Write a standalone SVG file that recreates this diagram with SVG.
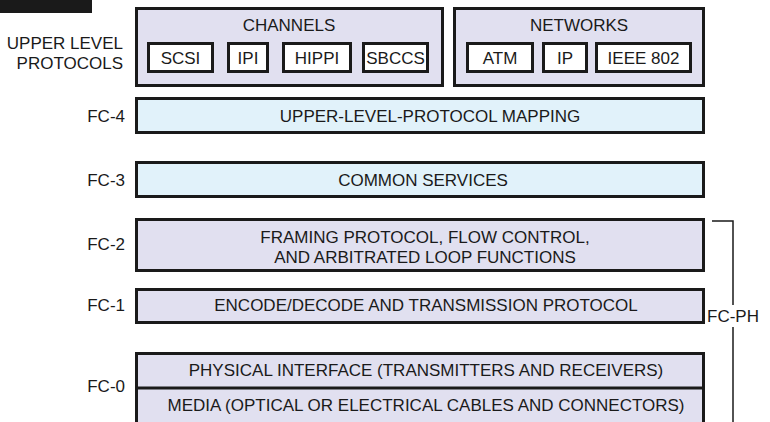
<svg xmlns="http://www.w3.org/2000/svg" width="770" height="422" viewBox="0 0 770 422">
  <style>
    text { font-family: "Liberation Sans", Arial, sans-serif; font-size: 17px; fill: #1a1a1a; }
    .mid { text-anchor: middle; }
    .end { text-anchor: end; }
    .group { fill: #e1e0f0; stroke: #1a1a1a; stroke-width: 3; }
    .proto { fill: #ffffff; stroke: #1a1a1a; stroke-width: 3; }
    .ulp { fill: #e1f2fa; stroke: #1a1a1a; stroke-width: 3; }
    .phys { fill: #e1e0f0; stroke: #1a1a1a; stroke-width: 3; }
    .bracket { fill: none; stroke: #1a1a1a; stroke-width: 1.5; }
  </style>

  <!-- corner tab -->
  <rect x="0" y="0" width="92" height="13" fill="#1a1a1a"/>

  <!-- upper level protocols -->
  <g id="upper-level-label">
    <text class="end" x="123" y="49">UPPER LEVEL</text>
    <text class="end" x="123" y="69">PROTOCOLS</text>
  </g>

  <g id="channels">
    <rect class="group" x="136.5" y="8.5" width="306" height="77"/>
    <text class="mid" x="289" y="31">CHANNELS</text>
    <g id="scsi">
      <rect class="proto" x="148.5" y="43.5" width="64" height="28"/>
      <text class="mid" x="180.5" y="64">SCSI</text>
    </g>
    <g id="ipi">
      <rect class="proto" x="228.5" y="43.5" width="39" height="28"/>
      <text class="mid" x="248" y="64">IPI</text>
    </g>
    <g id="hippi">
      <rect class="proto" x="283.5" y="43.5" width="67" height="28"/>
      <text class="mid" x="317" y="64">HIPPI</text>
    </g>
    <g id="sbccs">
      <rect class="proto" x="363.5" y="43.5" width="64" height="28"/>
      <text class="mid" x="395.5" y="64">SBCCS</text>
    </g>
  </g>

  <g id="networks">
    <rect class="group" x="454.5" y="8.5" width="249" height="77"/>
    <text class="mid" x="579" y="31">NETWORKS</text>
    <g id="atm">
      <rect class="proto" x="467.5" y="43.5" width="65" height="28"/>
      <text class="mid" x="500" y="64">ATM</text>
    </g>
    <g id="ip">
      <rect class="proto" x="543.5" y="43.5" width="43" height="28"/>
      <text class="mid" x="565" y="64">IP</text>
    </g>
    <g id="ieee802">
      <rect class="proto" x="596.5" y="43.5" width="94" height="28"/>
      <text class="mid" x="643.5" y="64">IEEE 802</text>
    </g>
  </g>

  <!-- FC levels -->
  <g id="fc4">
    <text class="end" x="125" y="122">FC-4</text>
    <rect class="ulp" x="136.5" y="98.5" width="567" height="34"/>
    <text class="mid" x="430" y="122">UPPER-LEVEL-PROTOCOL MAPPING</text>
  </g>

  <g id="fc3">
    <text class="end" x="125" y="186">FC-3</text>
    <rect class="ulp" x="136.5" y="162.5" width="567" height="34"/>
    <text class="mid" x="423" y="186">COMMON SERVICES</text>
  </g>

  <g id="fc2">
    <text class="end" x="125" y="250">FC-2</text>
    <rect class="phys" x="136.5" y="219.5" width="567" height="51"/>
    <text class="mid" x="425" y="243">FRAMING PROTOCOL, FLOW CONTROL,</text>
    <text class="mid" x="425" y="263">AND ARBITRATED LOOP FUNCTIONS</text>
  </g>

  <g id="fc1">
    <text class="end" x="125" y="311">FC-1</text>
    <rect class="phys" x="136.5" y="289.5" width="567" height="33"/>
    <text class="mid" x="426" y="311">ENCODE/DECODE AND TRANSMISSION PROTOCOL</text>
  </g>

  <g id="fc0">
    <text class="end" x="125" y="392">FC-0</text>
    <rect class="phys" x="136.5" y="353.5" width="567" height="80"/>
    <line x1="136.5" y1="388" x2="703.5" y2="388" stroke="#1a1a1a" stroke-width="3"/>
    <text class="mid" x="426" y="376">PHYSICAL INTERFACE (TRANSMITTERS AND RECEIVERS)</text>
    <text class="mid" x="426" y="411">MEDIA (OPTICAL OR ELECTRICAL CABLES AND CONNECTORS)</text>
  </g>

  <!-- FC-PH bracket -->
  <g id="connectors">
    <polyline class="bracket" points="712,221 733,221 733,305"/>
    <line class="bracket" x1="733" y1="327" x2="733" y2="422"/>
  </g>
  <g id="fc-ph">
    <text x="707" y="322">FC-PH</text>
  </g>
</svg>
